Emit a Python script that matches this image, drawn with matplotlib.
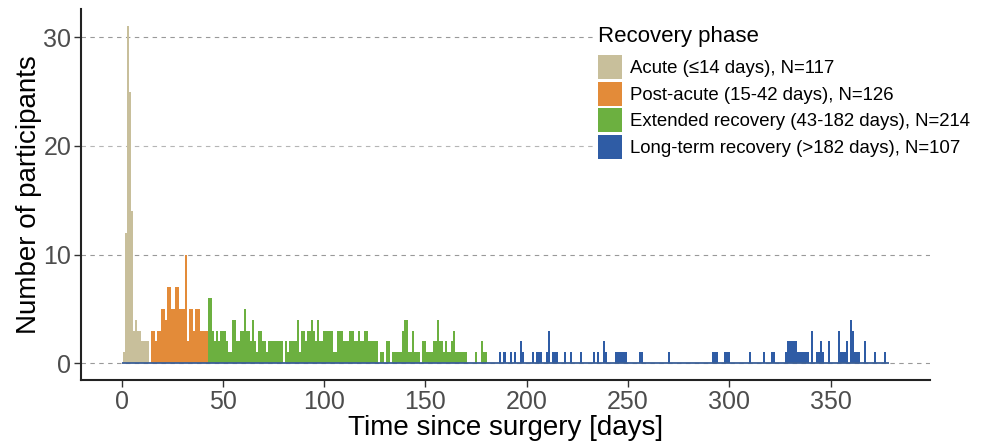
import numpy as np
import matplotlib.pyplot as plt

plt.rcParams['font.family'] = ['Liberation Sans', 'DejaVu Sans']

# participants per day since surgery, one bar per day
acute_days = list(range(1, 14))
acute_counts = [1, 12, 31, 25, 14, 3, 4, 3, 3, 2, 2, 2, 2]

post_days = list(range(15, 43))
post_counts = [3, 3, 2, 3, 3, 5, 5, 4, 7, 7, 5, 5, 7, 7, 5, 5, 5, 10, 2, 5,
               5, 3, 5, 5, 3, 3, 3, 3]

ext_days = list(range(43, 183))
ext_counts = [6, 6, 3, 2, 3, 2, 3, 3, 3, 2,
              1, 1, 4, 4, 2, 2, 3, 3, 5, 3,
              3, 2, 4, 2, 1, 3, 3, 2, 2, 1,
              2, 2, 2, 2, 2, 2, 2, 0, 2, 1,
              2, 2, 2, 2, 4, 1, 3, 3, 2, 3,
              3, 4, 3, 2, 4, 2, 2, 3, 3, 3,
              3, 3, 1, 1, 3, 3, 3, 2, 2, 2,
              3, 3, 2, 2, 3, 2, 2, 3, 3, 2,
              2, 2, 2, 2, 0, 1, 1, 0, 2, 2,
              0, 1, 1, 1, 1, 1, 3, 4, 4, 1,
              1, 3, 1, 1, 1, 0, 2, 2, 1, 1,
              1, 2, 2, 4, 2, 2, 1, 2, 1, 1,
              2, 3, 1, 1, 1, 1, 1, 1, 0, 0,
              0, 0, 1, 0, 0, 2, 1, 1, 0, 0]

long_days = [187, 189, 192, 194, 197, 198, 203, 205, 206, 207, 210, 211, 213,
             214, 215, 219, 222, 227, 233, 235, 238, 239, 244, 245, 246, 247,
             248, 249, 256, 257, 270, 292, 293, 294, 298, 299, 300, 310, 317,
             321, 322, 328, 329, 330, 331, 332, 333, 334, 335, 336, 337, 338,
             339, 341, 343, 344, 345, 346, 349, 354, 355, 356, 357, 358, 360,
             361, 362, 363, 364, 367, 372, 377]
long_counts = [1, 1, 1, 1, 2, 1, 1, 1, 1, 1, 1, 3, 1,
               1, 1, 1, 1, 1, 1, 1, 2, 1, 1, 1, 1, 1,
               1, 1, 1, 1, 1, 1, 1, 1, 1, 1, 1, 1, 1,
               1, 1, 1, 2, 2, 2, 2, 2, 1, 1, 1, 1, 1,
               1, 3, 1, 1, 2, 1, 2, 3, 1, 1, 1, 2, 4,
               3, 1, 1, 1, 2, 1, 1]

labels = ['Acute (\u226414 days), N=117',
          'Post-acute (15-42 days), N=126',
          'Extended recovery (43-182 days), N=214',
          'Long-term recovery (>182 days), N=107']
colors = ['#c8bf9b', '#e38b39', '#6cb040', '#2f5ca5']

fig = plt.figure(figsize=(9.84, 4.44), dpi=100)
ax = fig.add_axes([81/984, 64/444, 849/984, 370.5/444])

phases = [(acute_days, acute_counts), (post_days, post_counts),
          (ext_days, ext_counts), (long_days, long_counts)]
for (d, c), col, lab in zip(phases, colors, labels):
    ax.bar(d, c, width=1.0, color=col, linewidth=0, label=lab, zorder=2)

# zero line under the bars, as in the original
ax.hlines(0, min(acute_days) - 1, max(long_days) + 2, color='#3b5f96',
          lw=1.3, zorder=3)

ax.set_xlim(-20, 399)
ax.set_ylim(-1.55, 32.55)
ax.set_xticks(np.arange(0, 351, 50))
ax.set_yticks([0, 10, 20, 30])

for y in [0, 10, 20, 30]:
    ax.axhline(y, color='#b5b5b5' if y == 20 else '#999999',
               linestyle=(0, (4, 4)), lw=0.8, zorder=1)

for s in ['top', 'right']:
    ax.spines[s].set_visible(False)
for s in ['left', 'bottom']:
    ax.spines[s].set_linewidth(1.5)
    ax.spines[s].set_color('#222222')
ax.tick_params(length=5, width=1, color='#333333', labelsize=18,
               labelcolor='#4d4d4d', pad=2)

ax.set_xlabel('Time since surgery [days]', fontsize=20, labelpad=1)
ax.set_ylabel('Number of participants', fontsize=20, labelpad=1)

leg = ax.legend(title='Recovery phase', loc='upper left',
                bbox_to_anchor=((596 - 81) / 849, (380 - 24) / 370.5),
                frameon=True, facecolor='white', edgecolor='none',
                framealpha=1, fancybox=False, borderpad=0.1,
                borderaxespad=0, fontsize=13.4, title_fontsize=16,
                handlelength=1.3, handleheight=1.61, handletextpad=0.45,
                labelspacing=0.13, alignment='left')
leg._legend_box.sep = 6
leg.set_zorder(5)

fig.savefig('out.png', dpi=100)
